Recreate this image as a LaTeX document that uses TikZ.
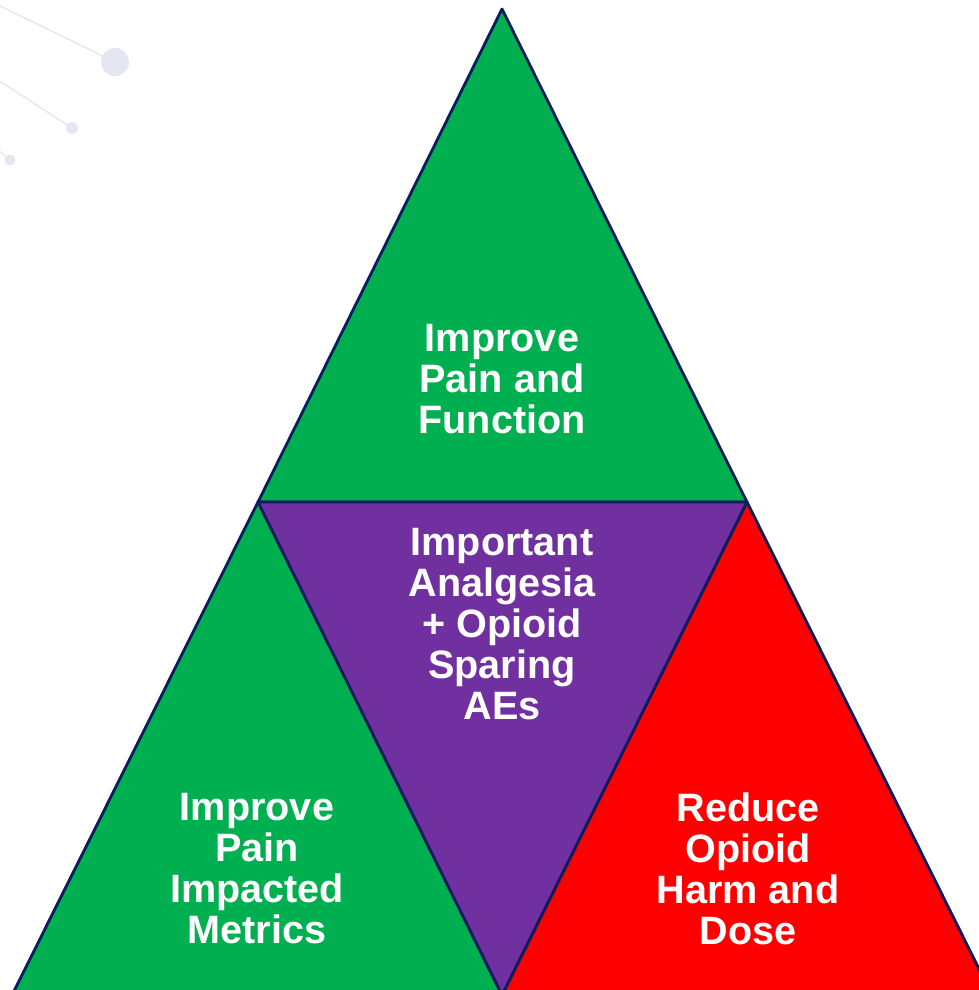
\documentclass[tikz,border=0pt]{standalone}
\usepackage{fontspec}
\setmainfont{Liberation Sans}
\begin{document}
\begin{tikzpicture}[x=1pt,y=-1pt,
  edge/.style={draw=navyline,line width=2.8pt,line join=round},
  label/.style={text=white,align=center,font=\fontsize{39.6}{41}\selectfont\bfseries,inner sep=0pt},
  deco/.style={draw=decoline,line width=1.4pt},
  dot/.style={fill=decoline,draw=none}]
\definecolor{navyline}{HTML}{0B1D5E}
\definecolor{tgreen}{HTML}{00B050}
\definecolor{tpurple}{HTML}{7030A0}
\definecolor{tred}{HTML}{FF0000}
\definecolor{decoline}{HTML}{E4E7F2}
\useasboundingbox (0,0) rectangle (979,990);
\clip (0,0) rectangle (979,990);
% faint network ornament
\draw[deco] (-2,5) -- (115,62);
\fill[dot] (115,62) circle (14);
\draw[deco] (-2,80) -- (72,128);
\fill[dot] (72,128) circle (6);
\draw[deco] (-2,150) -- (10,160);
\fill[dot] (10,160) circle (5.5);
% triangle corners
\coordinate (apex) at (502,9);
\coordinate (ml) at (258,502);
\coordinate (mr) at (747,502);
\coordinate (bl) at (12,995);
\coordinate (bm) at (502,995);
\coordinate (br) at (992,995);
% four sub-triangles
\filldraw[edge,fill=tgreen] (apex) -- (ml) -- (mr) -- cycle;
\filldraw[edge,fill=tgreen] (ml) -- (bl) -- (bm) -- cycle;
\filldraw[edge,fill=tred] (mr) -- (bm) -- (br) -- cycle;
\filldraw[edge,fill=tpurple] (ml) -- (mr) -- (bm) -- cycle;
% labels
\node[label] (top) at (502,379) {Improve\\Pain and\\Function};
\node[label] (mid) at (502,624) {Important\\Analgesia\\+ Opioid\\Sparing\\AEs};
\node[label] (left) at (257,869) {Improve\\Pain\\Impacted\\Metrics};
\node[label] (right) at (748,869) {Reduce\\Opioid\\Harm and\\Dose};
\end{tikzpicture}
\end{document}
